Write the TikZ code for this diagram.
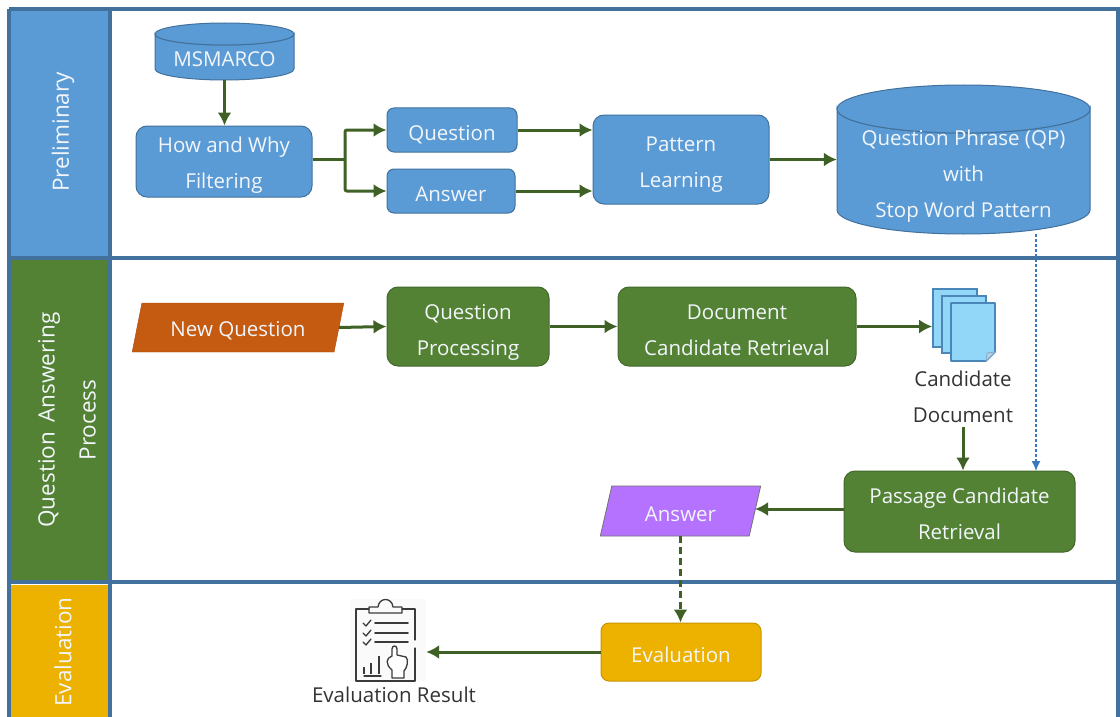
\documentclass[tikz,border=0pt]{standalone}
\usepackage{fontspec}
\setmainfont{Open Sans}
\usetikzlibrary{arrows.meta,shapes.geometric}
\definecolor{blueF}{HTML}{5B9BD5}
\definecolor{blueB}{HTML}{41719C}
\definecolor{greenF}{HTML}{548235}
\definecolor{greenA}{HTML}{3F6125}
\definecolor{orangeF}{HTML}{C55A11}
\definecolor{purpleF}{HTML}{B472FF}
\definecolor{yellowF}{HTML}{EDB100}
\definecolor{pageF}{HTML}{93D7F8}
\definecolor{pageB}{HTML}{4A86B8}
\definecolor{txtW}{HTML}{F2F6FB}
\definecolor{iconC}{HTML}{3A3A3A}
\definecolor{dashB}{HTML}{3A78BE}
\newcommand{\strutsize}{22}
\newcommand{\lowerstrut}{\rule{0pt}{\strutsize pt}}
\newcommand{\dbshape}[5]{% x0 y0 x1 y1 ry
  \pgfmathsetmacro{\rxv}{(#3-#1)/2}
  \pgfmathsetmacro{\cxv}{(#3+#1)/2}
  \pgfmathsetmacro{\tyv}{#2+#5}
  \pgfmathsetmacro{\byv}{#4-#5}
  \draw[dbpath] (#1,\tyv) -- (#1,\byv) arc[start angle=180,end angle=0,x radius=\rxv,y radius=#5] -- (#3,\tyv) arc[start angle=0,end angle=180,x radius=\rxv,y radius=#5] -- cycle;
  \draw[dbpath] (\cxv,\tyv) ellipse[x radius=\rxv,y radius=#5];
}
\tikzset{
  x=1pt,y=-1pt,
  label font/.style={font=\fontsize{20.5}{36}\selectfont},
  strutted/.code={\renewcommand{\strutsize}{#1}},
  boxbase/.style={rectangle,rounded corners=11pt,align=center,text=txtW,label font,inner sep=0pt,execute at begin node={\lowerstrut}},
  bluebox/.style={boxbase,fill=blueF,draw=blueB,line width=1pt},
  greenbox/.style={boxbase,fill=greenF,draw=greenF!80!black,line width=1pt},
  yellowbox/.style={boxbase,fill=yellowF,draw=yellowF!85!black,line width=1pt},
  dbpath/.style={fill=blueF,draw=blueB,line width=1pt},
  dbtext/.style={rectangle,align=center,text=txtW,label font,inner sep=0pt,execute at begin node={\lowerstrut}},
  inlabel/.style={rectangle,fill=none,draw=none,rounded corners=0pt,align=center,text=txtW,label font,inner sep=0pt,yshift=-#1},
  slant/.style={trapezium,trapezium left angle=75,trapezium right angle=105,trapezium stretches=true,inner sep=0pt,text=txtW,label font,execute at begin node={\lowerstrut}},
  band/.style={rectangle,inner sep=0pt,line width=0pt},
  bandtext/.style={rotate=90,align=center,text=txtW,font=\fontsize{22.5}{41}\selectfont,inner sep=0pt},
  flow/.style={draw=greenA,line width=3pt,-{Latex[length=13pt,width=14pt]}},
  flowplain/.style={draw=greenA,line width=3pt,line join=round},
  rule/.style={draw=blueB,line width=4pt},
  pagebox/.style={rectangle,fill=pageF,draw=pageB,line width=1.6pt,inner sep=0pt},
  icon/.style={draw=iconC,line width=1.3pt,line cap=round,line join=round},
  plaintext/.style={text=black!80,label font,align=center,inner sep=0pt},
}
\begin{document}
\begin{tikzpicture}
\useasboundingbox (0,0) rectangle (1120,717);
\fill[white] (0,0) rectangle (1120,717);
% bands
\node[band,fill=blueF,minimum width=100pt,minimum height=247pt] (b1) at (60,133) {};
\node[band,fill=greenF,minimum width=100pt,minimum height=322pt] (b2) at (60,420) {};
\node[band,fill=yellowF,minimum width=100pt,minimum height=133pt] (b3) at (60,651) {};
\node[bandtext] (t1) at (63,132) {Preliminary};
\node[bandtext] (t2) at (67,420) {Question\, Answering\\Process};
\node[bandtext] (t3) at (63,652) {Evaluation};
% frame
\coordinate (fa) at (9,9); \coordinate (fb) at (1118,9);
\coordinate (fc) at (9,258); \coordinate (fd) at (1118,258);
\coordinate (fe) at (9,582); \coordinate (ff) at (1118,582);
\coordinate (fg) at (9,717); \coordinate (fh) at (1118,717);
\coordinate (fi) at (110,9); \coordinate (fj) at (110,717);
\draw[rule] (fa) -- (fb) -- (fh);
\draw[rule] (fa) -- (fg);
\draw[rule] (fc) -- (fd);
\draw[rule] (fe) -- (ff);
\draw[rule] (fi) -- (fj);
\draw[draw=blueB!25,line width=1pt] (fg) -- (fh);
% preliminary
\dbshape{155}{23}{294}{80}{11}
\node[dbtext,strutted=30,minimum width=139pt,minimum height=57pt] (ms) at (224.5,51.5) {MSMARCO};
\node[bluebox,minimum width=176pt,minimum height=71pt,label={[inlabel=4pt]center:{How and Why\\Filtering}}] (hw) at (224,161.5) {};
\node[bluebox,strutted=24,rounded corners=7pt,minimum width=130pt,minimum height=44pt] (q) at (452,130) {Question};
\node[bluebox,rounded corners=7pt,minimum width=128pt,minimum height=44pt] (a) at (451,191) {Answer};
\node[bluebox,minimum width=176pt,minimum height=89pt,label={[inlabel=5pt]center:{Pattern\\Learning}}] (pl) at (681,159.5) {};
\dbshape{837}{85}{1090}{234}{24}
\node[dbtext,minimum width=253pt,minimum height=149pt,label={[inlabel=17pt]center:{Question Phrase (QP)\\with\\Stop Word Pattern}}] (qp) at (963.5,159.5) {};
\coordinate (br) at (345,159);
\draw[flow] (ms.south) -- (hw.north -| ms.south);
\draw[flowplain] (hw.east |- br) -- (br);
\draw[flow,rounded corners=2pt] (br) |- (q.west);
\draw[flow,rounded corners=2pt] (br) |- (a.west);
\draw[flow] (q.east) -- (q.east -| pl.west);
\draw[flow] (a.east) -- (a.east -| pl.west);
\draw[flow] (pl.east) -- (qp.west |- pl.east);
% process
\node[slant,fill=orangeF,draw=orangeF!85!black,minimum width=212pt,minimum height=49pt] (nq) at (238,327.5) {New Question};
\node[greenbox,minimum width=162pt,minimum height=79pt,label={[inlabel=6pt]center:{Question\\Processing}}] (qproc) at (468,326.5) {};
\node[greenbox,minimum width=238pt,minimum height=79pt,label={[inlabel=4pt]center:{Document\\Candidate Retrieval}}] (dc) at (737,326.5) {};
\node[pagebox,minimum width=44pt,minimum height=58pt] (p1) at (955,318) {};
\node[pagebox,minimum width=44pt,minimum height=57pt] (p2) at (964,324.5) {};
\coordinate (p3a) at (951,303); \coordinate (p3b) at (995,303);
\coordinate (p3c) at (995,352); \coordinate (p3d) at (986,361); \coordinate (p3e) at (951,361);
\draw[fill=pageF,draw=pageB,line width=1.6pt,line join=round] (p3a) -- (p3b) -- (p3c) -- (p3d) -- (p3e) -- cycle;
\draw[fill=pageB!40,draw=pageB!70,line width=.8pt] (p3c) -- (987,353) -- (p3d) -- cycle;
\node[plaintext] (cd) at (963,397) {Candidate\\Document};
\node[greenbox,minimum width=231pt,minimum height=81pt,label={[inlabel=2pt]center:{Passage Candidate\\Retrieval}}] (pg) at (959.5,511.5) {};
\node[slant,fill=purpleF,draw=black!55,line width=.8pt,minimum width=161pt,minimum height=50pt] (an) at (680.5,511) {Answer};
\node[yellowbox,rounded corners=8pt,minimum width=160pt,minimum height=58pt] (ev) at (681,652) {Evaluation};
\draw[flow] (nq.east) -- (qproc.west);
\draw[flow] (qproc.east) -- (qproc.east -| dc.west);
\draw[flow] (dc.east) -- (p1.west |- dc.east);
\draw[flow] (cd.south) ++(0,4) -- (cd.south |- pg.north);
\coordinate (anr) at (755,509);
\draw[flow] (pg.west |- anr) -- (anr);
\coordinate (qd1) at (1036,234); \coordinate (qd2) at (1036,471);
\draw[draw=dashB,line width=1.4pt,densely dashed,-{Latex[length=10pt,width=9pt]}] (qd1) -- (qd2);
\draw[flow,dash pattern=on 7pt off 4pt] (an.south) -- (ev.north -| an.south);
% evaluation
\node[rectangle,fill=black!2,minimum width=76pt,minimum height=82pt,inner sep=0pt] (ic) at (388,640) {};
\draw[flow] (ev.west) -- (ic.east |- ev.west);
\node[plaintext,font=\fontsize{20.5}{22}\selectfont] (er) at (394,695) {Evaluation Result};
% clipboard icon
\draw[icon] (369,609) -- (356,609) -- (356,681) -- (415,681) -- (415,648);
\draw[icon] (415,640) -- (415,609) -- (402,609);
\draw[icon] (369,613) -- (369,607) -- (378,607) .. controls (379,597) and (392,597) .. (393,607) -- (402,607) -- (402,613) -- cycle;
\draw[icon,line width=1.6pt] (375,623) -- (408,623) (375,633) -- (408,633) (375,642) -- (408,642);
\draw[icon] (363,623) -- (366,626) -- (371,620) (363,633) -- (366,636) -- (371,630) (363,642) -- (366,645) -- (371,639);
\draw[icon,line width=2pt,line cap=butt] (364,674) -- (364,667) (371,674) -- (371,663) (379,674) -- (379,656);
\draw[icon] (364,676) -- (381,676);
\draw[icon,fill=white] (392,678) -- (392,670) .. controls (385,664) and (386,658) .. (392,656) -- (392,649) .. controls (392,645) and (397,645) .. (397,649) -- (397,655) -- (406,657) .. controls (409,660) and (407,668) .. (404,671) -- (404,678) -- cycle;
\end{tikzpicture}
\end{document}
